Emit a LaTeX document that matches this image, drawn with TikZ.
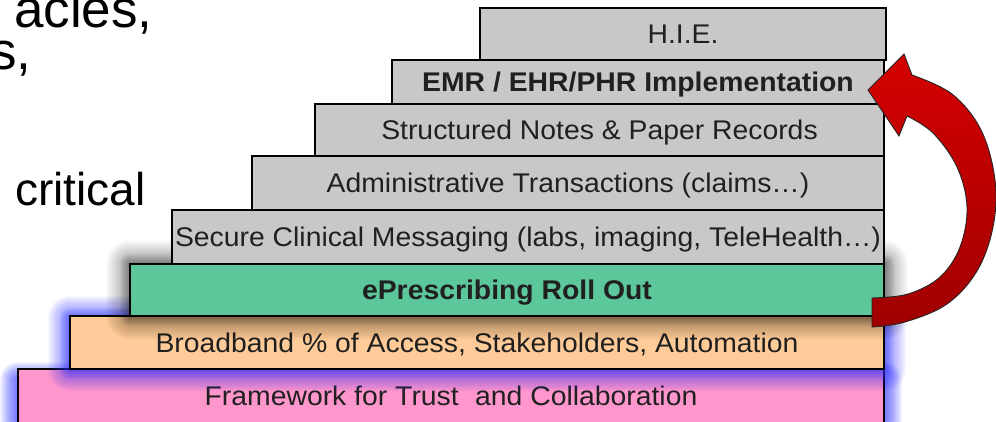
\documentclass[tikz,border=0pt]{standalone}
\usepackage{fontspec}
\setmainfont{Liberation Sans}
\usepackage{graphicx}
\definecolor{boxgray}{HTML}{C8C8C8}
\definecolor{boxgreen}{HTML}{5CC79B}
\definecolor{boxpeach}{HTML}{FFCC99}
\definecolor{boxpink}{HTML}{FF96CC}
\definecolor{txtc}{HTML}{202020}
\definecolor{glowblue}{HTML}{3030FF}
\definecolor{redtop}{HTML}{D40000}
\definecolor{redbot}{HTML}{A00000}
\newcommand{\sx}[1]{\scalebox{1.05}[1]{#1}}
\begin{document}
\begin{tikzpicture}[x=1pt,y=-1pt,
  box/.style={draw=black, line width=1.6pt, inner sep=0pt, text=txtc,
    text height=19.3pt, text depth=0pt, font=\fontsize{27}{30}\selectfont},
  bbox/.style={box, font=\fontsize{27}{30}\selectfont\bfseries},
  lefttext/.style={inner sep=0pt, text=black, font=\fontsize{53}{58}\selectfont},
  lefttextb/.style={inner sep=0pt, text=black, font=\fontsize{46}{50}\selectfont}]
\clip (0,0) rectangle (996,421);
\fill[white] (0,0) rectangle (996,421);

% framework glow
\foreach \k in {1,...,18}{\fill[glowblue, fill opacity=0.05, rounded corners=\k pt] (18-\k,380-\k) rectangle (884+\k,430+\k);}
\node[box, fill=boxpink, minimum width=866pt, minimum height=54pt] (fw) at (451,396) {\sx{Framework for Trust\hspace{0.3em} and Collaboration}};

% broadband glow
\foreach \k in {1,...,22}{\fill[glowblue, fill opacity=0.03, rounded corners=\k pt] (70-\k,318-\k) rectangle (884+\k,369+\k);}
\foreach \k in {1,...,10}{\fill[glowblue, fill opacity=0.04, rounded corners=\k pt] (70-\k,318-\k) rectangle (884+\k,369+\k);}
\node[box, fill=boxpeach, minimum width=814pt, minimum height=53pt] (bb) at (477,342.5) {\sx{Broadband \% of Access, Stakeholders, Automation}};

% ePrescribing glow
\foreach \k in {1,...,24}{\fill[black, fill opacity=0.016, rounded corners=\k pt] (130-\k,264-\k) rectangle (884+\k,316+\k);}
\foreach \k in {1,...,10}{\fill[black, fill opacity=0.025, rounded corners=\k pt] (130-\k,264-\k) rectangle (884+\k,316+\k);}
\node[bbox, fill=boxgreen, minimum width=754pt, minimum height=52pt] (ep) at (507,290) {\sx{ePrescribing Roll Out}};

\node[box, fill=boxgray, minimum width=712pt, minimum height=54pt] (sc) at (528,237) {\sx{Secure Clinical Messaging (labs, imaging, TeleHealth…)}};
\node[box, fill=boxgray, minimum width=632pt, minimum height=54pt] (ad) at (568,183) {\sx{Administrative Transactions (claims…)}};
\node[box, fill=boxgray, minimum width=569pt, minimum height=52pt] (st) at (599.5,130) {\sx{Structured Notes \& Paper Records}};
\node[bbox, fill=boxgray, minimum width=492pt, minimum height=44pt] (emr) at (638,82) {\sx{EMR / EHR/PHR Implementation}};
\node[box, fill=boxgray, minimum width=406pt, minimum height=52pt] (hie) at (683,34) {\sx{H.I.E.}};

% curved block arrow from ePrescribing to EMR
\path[draw=black!85, line width=0.9pt, top color=redtop, bottom color=redbot]
  plot[smooth, tension=0.6] coordinates {(872,298) (908,294) (940,277) (960,247) (967,207) (957,167) (933,133) (907,116)}
  -- (899,136) -- (868,90) -- (904,54) -- (912,75)
  -- plot[smooth, tension=0.6] coordinates {(912,75) (952,94) (981,130) (995,180) (993,227) (977,271) (947,304) (905,322) (872,327)}
  -- cycle;

% left text fragments
\node[lefttext, anchor=base west] (t1) at (14,27) {acies,};
\node[lefttext, anchor=base west] (t2) at (-10,69) {s,};
\node[lefttextb, anchor=base west] (t3) at (15,205) {critical};
\end{tikzpicture}
\end{document}
